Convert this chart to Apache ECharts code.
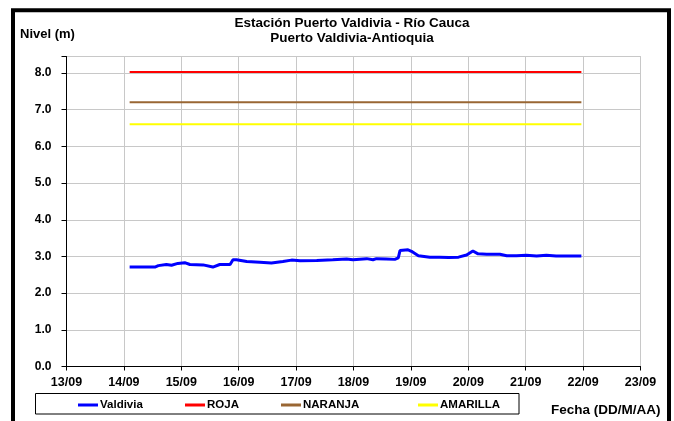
<!DOCTYPE html>
<html>
<head>
<meta charset="utf-8">
<script src="https://cdn.jsdelivr.net/npm/echarts@6/dist/echarts.min.js"></script>
<style>
html,body{margin:0;padding:0;background:#fff;}
#c{width:674px;height:421px;}
</style>
</head>
<body>
<div id="c"></div>
<script>
// Days of September (fractional) and river level (m) for Valdivia station
const days = [14.10,14.54,14.60,14.74,14.83,14.94,15.06,15.15,15.38,15.55,15.67,15.85,15.90,15.96,16.14,16.37,16.57,16.77,16.92,17.07,17.36,17.64,17.88,17.99,18.23,18.34,18.40,18.57,18.72,18.78,18.81,18.95,19.01,19.13,19.33,19.50,19.66,19.83,19.97,20.08,20.17,20.32,20.55,20.67,20.84,21.01,21.19,21.36,21.53,21.97];
const levels = [2.71,2.71,2.75,2.78,2.76,2.81,2.83,2.78,2.77,2.71,2.78,2.78,2.91,2.91,2.86,2.84,2.82,2.86,2.90,2.88,2.89,2.91,2.93,2.91,2.94,2.91,2.94,2.93,2.92,2.96,3.16,3.18,3.14,3.02,2.98,2.98,2.97,2.98,3.04,3.15,3.07,3.06,3.06,3.02,3.02,3.03,3.01,3.03,3.01,3.01];
// Alert thresholds
const thresholdDays = [14.10, 21.97];
const roja = 8.03;
const naranja = 7.2;
const amarilla = 6.6;
// Axis
const xMin = 13, xMax = 23;
const yMin = 0, yMax = 8.45;
const monthLabel = '09';
const titleText = 'Estación Puerto Valdivia - Río Cauca\nPuerto Valdivia-Antioquia';
const yName = 'Nivel (m)';
const xName = 'Fecha (DD/M/AA)';

const FONT = 'Liberation Sans, Arial, sans-serif';
const chart = echarts.init(document.getElementById('c'), null, {renderer: 'canvas'});

function pair(xs, ys) { return xs.map((x, i) => [x, ys[i]]); }
function flat(xs, v) { return xs.map(x => [x, v]); }

const legendBase = {
  top: 399, padding: 0, itemWidth: 20, itemHeight: 3, icon: 'rect', itemGap: 0,
  textStyle: {fontFamily: FONT, fontWeight: 'bold', fontSize: 11.5, color: '#000', padding: [0, 0, 0, -3]},
  selectedMode: false
};

chart.setOption({
  backgroundColor: '#fff',
  animation: false,
  title: {
    text: titleText,
    left: 352, textAlign: 'center', top: 16, padding: 0,
    textStyle: {fontFamily: FONT, fontWeight: 'bold', fontSize: 13.5, lineHeight: 15, color: '#000'}
  },
  legend: [
    Object.assign({left: 78, data: ['Valdivia']}, legendBase),
    Object.assign({left: 185, data: ['ROJA']}, legendBase),
    Object.assign({left: 281, data: ['NARANJA']}, legendBase),
    Object.assign({left: 418, data: ['AMARILLA']}, legendBase)
  ],
  grid: {left: 66.5, right: 33.5, top: 56.5, bottom: 54.5, show: true, borderColor: '#c0c0c0', borderWidth: 1},
  xAxis: {
    type: 'value', min: xMin, max: xMax, interval: 1,
    axisLine: {show: true, onZero: false, lineStyle: {color: '#000', width: 1}},
    axisTick: {show: true, length: 4, lineStyle: {color: '#000'}},
    axisLabel: {
      margin: 10, fontFamily: FONT, fontWeight: 'bold', fontSize: 12.5, color: '#000',
      formatter: v => String(v).padStart(2, '0') + '/' + monthLabel
    },
    splitLine: {show: true, lineStyle: {color: '#c8c8c8', width: 1}}
  },
  yAxis: {
    type: 'value', min: yMin, max: yMax, interval: 1,
    axisLine: {show: true, lineStyle: {color: '#000', width: 1}},
    axisTick: {show: true, length: 5, lineStyle: {color: '#000'}},
    axisLabel: {
      margin: 15, fontFamily: FONT, fontWeight: 'bold', fontSize: 12, color: '#000',
      formatter: v => (Math.abs(v - Math.round(v)) < 1e-6 ? v.toFixed(1) : '')
    },
    splitLine: {show: true, lineStyle: {color: '#c8c8c8', width: 1}}
  },
  series: [
    {name: 'Valdivia', type: 'line', data: pair(days, levels), showSymbol: false, symbol: 'none',
     lineStyle: {color: '#0000ff', width: 3}, itemStyle: {color: '#0000ff'}, z: 5},
    {name: 'ROJA', type: 'line', data: flat(thresholdDays, roja), showSymbol: false, symbol: 'none',
     lineStyle: {color: '#ff0000', width: 2}, itemStyle: {color: '#ff0000'}},
    {name: 'NARANJA', type: 'line', data: flat(thresholdDays, naranja), showSymbol: false, symbol: 'none',
     lineStyle: {color: '#996633', width: 2}, itemStyle: {color: '#996633'}},
    {name: 'AMARILLA', type: 'line', data: flat(thresholdDays, amarilla), showSymbol: false, symbol: 'none',
     lineStyle: {color: '#ffff00', width: 2}, itemStyle: {color: '#ffff00'}}
  ],
  graphic: [
    {type: 'rect', silent: true, z: 100, shape: {x: 13, y: 10.3, width: 656, height: 440},
     style: {fill: 'none', stroke: '#000', lineWidth: 4}},
    {type: 'rect', silent: true, z: 1, shape: {x: 35.5, y: 393.5, width: 483.5, height: 20.5},
     style: {fill: 'none', stroke: '#000', lineWidth: 1}},
    {type: 'text', left: 20, top: 27.5, silent: true,
     style: {text: yName, fontFamily: FONT, fontWeight: 'bold', fontSize: 13, fill: '#000'}},
    {type: 'text', left: 551, top: 403, silent: true,
     style: {text: xName, fontFamily: FONT, fontWeight: 'bold', fontSize: 13.5, fill: '#000'}}
  ]
});
</script>
</body>
</html>
